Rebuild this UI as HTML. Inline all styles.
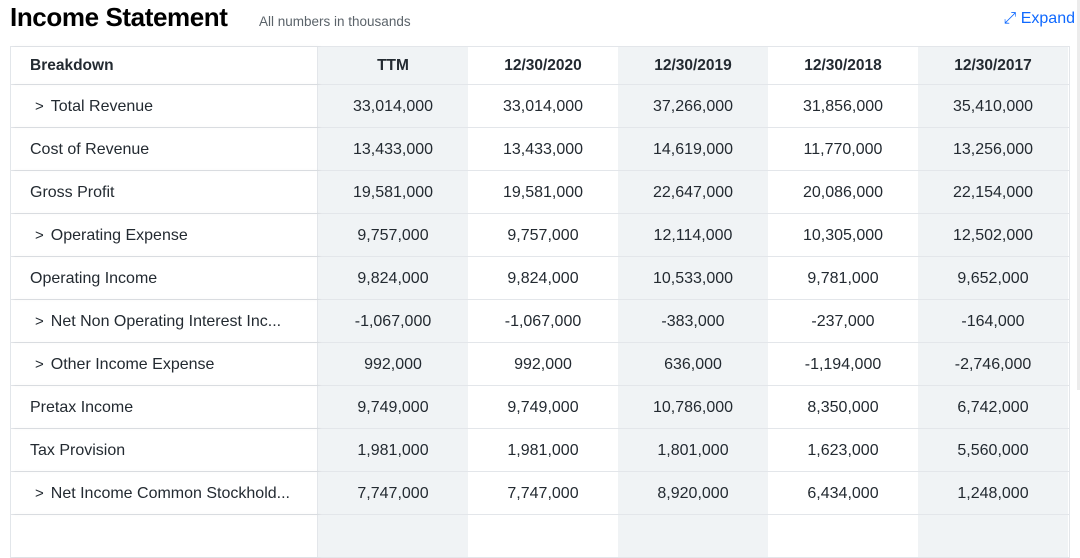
<!DOCTYPE html>
<html><head><style>
body{margin:0;width:1080px;height:522px;overflow:hidden;background:#fff;font-family:"Liberation Sans",sans-serif;color:#232a31;position:relative}
.t{position:absolute;left:10px;top:2px;font-size:26px;font-weight:bold;color:#000;letter-spacing:-0.4px}
.s{position:absolute;left:259px;top:14px;font-size:13.5px;color:#5b636a}
.e{position:absolute;right:5px;top:10px;font-size:16px;color:#0f69ff}
.grid{position:absolute;left:10px;top:46px;width:1058px;border-left:1px solid #e3e6ea;border-top:1px solid #e3e6ea;border-right:1px solid #e3e6ea}
.row{display:flex;height:42px;border-bottom:1px solid #e3e6ea}
.row.h{height:37px}
.c{width:150px;display:flex;align-items:center;justify-content:center;font-size:16px;padding-top:1px;box-sizing:border-box}
.c0{width:307px;display:flex;align-items:center;padding-left:19px;padding-top:1px;box-sizing:border-box;font-size:16px;border-right:1px solid #e3e6ea;box-shadow:2px 0 3px rgba(0,0,0,0.06)}
.c.g{background:#f0f3f5}
.h .c,.h .c0{font-weight:bold;font-size:15.5px}
.ar{margin-left:5px;margin-right:7px;font-size:15px}
.sb{position:absolute;left:1077px;top:0;width:3px;height:390px;background:#ececec}
</style></head><body>
<div class="t">Income Statement</div>
<div class="s">All numbers in thousands</div>
<div class="e">⤢ Expand</div>
<div class="sb"></div>
<div class="grid">
<div class="row h"><div class="c0">Breakdown</div><div class="c g">TTM</div><div class="c">12/30/2020</div><div class="c g">12/30/2019</div><div class="c">12/30/2018</div><div class="c g">12/30/2017</div></div>
<div class="row"><div class="c0"><span class="ar">&gt;</span>Total Revenue</div><div class="c g">33,014,000</div><div class="c">33,014,000</div><div class="c g">37,266,000</div><div class="c">31,856,000</div><div class="c g">35,410,000</div></div>
<div class="row"><div class="c0">Cost of Revenue</div><div class="c g">13,433,000</div><div class="c">13,433,000</div><div class="c g">14,619,000</div><div class="c">11,770,000</div><div class="c g">13,256,000</div></div>
<div class="row"><div class="c0">Gross Profit</div><div class="c g">19,581,000</div><div class="c">19,581,000</div><div class="c g">22,647,000</div><div class="c">20,086,000</div><div class="c g">22,154,000</div></div>
<div class="row"><div class="c0"><span class="ar">&gt;</span>Operating Expense</div><div class="c g">9,757,000</div><div class="c">9,757,000</div><div class="c g">12,114,000</div><div class="c">10,305,000</div><div class="c g">12,502,000</div></div>
<div class="row"><div class="c0">Operating Income</div><div class="c g">9,824,000</div><div class="c">9,824,000</div><div class="c g">10,533,000</div><div class="c">9,781,000</div><div class="c g">9,652,000</div></div>
<div class="row"><div class="c0"><span class="ar">&gt;</span>Net Non Operating Interest Inc...</div><div class="c g">-1,067,000</div><div class="c">-1,067,000</div><div class="c g">-383,000</div><div class="c">-237,000</div><div class="c g">-164,000</div></div>
<div class="row"><div class="c0"><span class="ar">&gt;</span>Other Income Expense</div><div class="c g">992,000</div><div class="c">992,000</div><div class="c g">636,000</div><div class="c">-1,194,000</div><div class="c g">-2,746,000</div></div>
<div class="row"><div class="c0">Pretax Income</div><div class="c g">9,749,000</div><div class="c">9,749,000</div><div class="c g">10,786,000</div><div class="c">8,350,000</div><div class="c g">6,742,000</div></div>
<div class="row"><div class="c0">Tax Provision</div><div class="c g">1,981,000</div><div class="c">1,981,000</div><div class="c g">1,801,000</div><div class="c">1,623,000</div><div class="c g">5,560,000</div></div>
<div class="row"><div class="c0"><span class="ar">&gt;</span>Net Income Common Stockhold...</div><div class="c g">7,747,000</div><div class="c">7,747,000</div><div class="c g">8,920,000</div><div class="c">6,434,000</div><div class="c g">1,248,000</div></div>
<div class="row"><div class="c0"></div><div class="c g"></div><div class="c"></div><div class="c g"></div><div class="c"></div><div class="c g"></div></div>
</div>
</body></html>
